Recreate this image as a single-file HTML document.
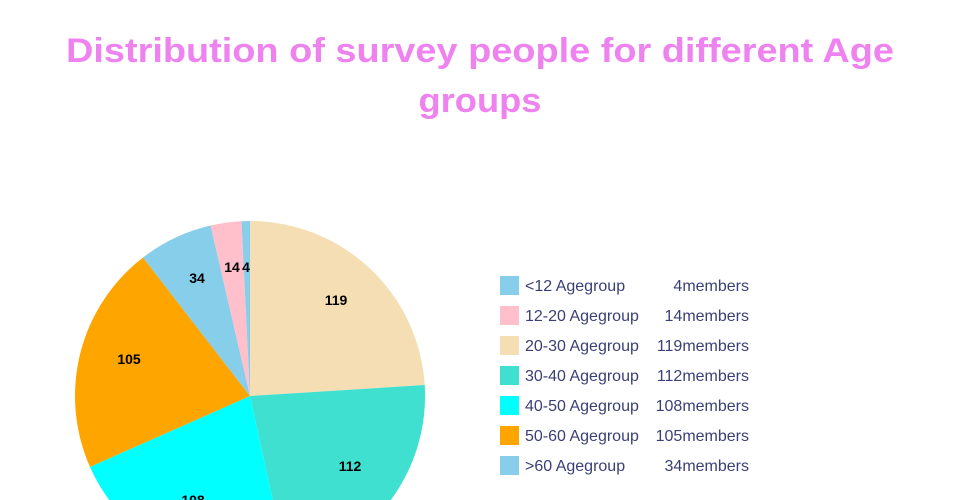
<!DOCTYPE html>
<html><head><meta charset="utf-8"><style>html,body{margin:0;padding:0;background:#fff;overflow:hidden;width:960px;height:500px}svg{display:block}</style></head>
<body>
<svg width="960" height="500" xmlns="http://www.w3.org/2000/svg" font-family="Liberation Sans, sans-serif">
<defs><clipPath id="c"><rect x="0" y="0" width="960" height="500"/></clipPath></defs>
<g font-size="34" font-weight="bold" fill="#ee82ee" text-anchor="middle">
<text x="480" y="62" textLength="828" lengthAdjust="spacingAndGlyphs">Distribution of survey people for different Age</text>
<text x="480" y="112" textLength="123" lengthAdjust="spacingAndGlyphs">groups</text>
</g>
<g clip-path="url(#c)">
<path d="M250,396 L250,221 A175,175 0 0 1 424.7,385 Z" fill="#f5deb3"/>
<path d="M250,396 L424.7,385 A175,175 0 0 1 287.3,567 Z" fill="#40e0d0"/>
<path d="M250,396 L287.3,567 A175,175 0 0 1 90,466.9 Z" fill="#00ffff"/>
<path d="M250,396 L90,466.9 A175,175 0 0 1 143,257.5 Z" fill="#ffa500"/>
<path d="M250,396 L143,257.5 A175,175 0 0 1 210.6,225.5 Z" fill="#87ceeb"/>
<path d="M250,396 L210.6,225.5 A175,175 0 0 1 241.5,221.2 Z" fill="#ffc0cb"/>
<path d="M250,396 L241.5,221.2 A175,175 0 0 1 250,221 Z" fill="#87ceeb"/>
<g font-size="14" font-weight="bold" fill="#000" text-anchor="middle">
<text x="336" y="305">119</text>
<text x="350" y="471">112</text>
<text x="193" y="505">108</text>
<text x="129" y="364">105</text>
<text x="197" y="283">34</text>
<text x="232" y="272">14</text>
<text x="246" y="272">4</text>
</g>
</g>
<g font-size="16" fill="#3a3f75">
<rect x="500" y="276" width="19" height="19" fill="#87ceeb"/><text x="525" y="291">&lt;12 Agegroup</text><text x="749" y="291" text-anchor="end">4members</text>
<rect x="500" y="306" width="19" height="19" fill="#ffc0cb"/><text x="525" y="321">12-20 Agegroup</text><text x="749" y="321" text-anchor="end">14members</text>
<rect x="500" y="336" width="19" height="19" fill="#f5deb3"/><text x="525" y="351">20-30 Agegroup</text><text x="749" y="351" text-anchor="end">119members</text>
<rect x="500" y="366" width="19" height="19" fill="#40e0d0"/><text x="525" y="381">30-40 Agegroup</text><text x="749" y="381" text-anchor="end">112members</text>
<rect x="500" y="396" width="19" height="19" fill="#00ffff"/><text x="525" y="411">40-50 Agegroup</text><text x="749" y="411" text-anchor="end">108members</text>
<rect x="500" y="426" width="19" height="19" fill="#ffa500"/><text x="525" y="441">50-60 Agegroup</text><text x="749" y="441" text-anchor="end">105members</text>
<rect x="500" y="456" width="19" height="19" fill="#87ceeb"/><text x="525" y="471">&gt;60 Agegroup</text><text x="749" y="471" text-anchor="end">34members</text>
</g>
</svg>
</body></html>
